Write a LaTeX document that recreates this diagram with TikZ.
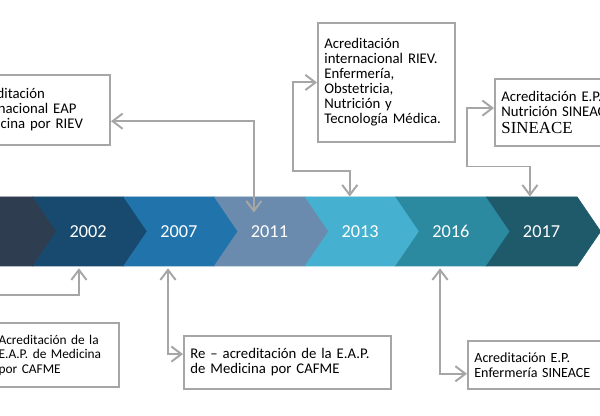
\documentclass[tikz,border=0pt]{standalone}
\usepackage{fontspec}
\setmainfont{Carlito}
\newfontfamily\sineacefont{Liberation Serif}
\usepackage{tikz}
\usetikzlibrary{calc,arrows.meta}
\definecolor{chev0}{HTML}{2E3E50}
\definecolor{chev1}{HTML}{174A6E}
\definecolor{chev2}{HTML}{2173AB}
\definecolor{chev3}{HTML}{6A8BAE}
\definecolor{chev4}{HTML}{45B0CF}
\definecolor{chev5}{HTML}{2C8AA0}
\definecolor{chev6}{HTML}{1E5A6A}
\definecolor{linegray}{HTML}{A6A6A6}
\tikzset{
	box/.style={draw=linegray,line width=1.4pt,fill=white,align=left,inner xsep=0.16cm,inner ysep=0pt,font=\fontsize{10.5}{10.7}\selectfont},
	year/.style={text=white,inner sep=0pt,minimum height=1.73cm,font=\fontsize{13}{13}\selectfont},
	link/.style={draw=linegray,line width=1.4pt,{Straight Barb[length=2.5mm,width=3.8mm]}-{Straight Barb[length=2.5mm,width=3.8mm]}}
}

\begin{document}
\begin{tikzpicture}
		\useasboundingbox (0,0) rectangle (15,-10.4);
		\clip (0,0) rectangle (15,-10.4);
		\foreach \col [count=\k from 0] in {chev0,chev1,chev2,chev3,chev4,chev5,chev6}
			\filldraw[\col,line width=0.4pt] ({0.825+2.267*(\k-1)},-4.92) -- ++(2.267,0) -- ++(0.59,-0.865) -- ++(-0.59,-0.865) -- ++(-2.267,0) -- ++(0.59,0.865) -- cycle;
		\foreach \yr [count=\k] in {2002,2007,2011,2013,2016,2017}
			\node(\yr) [year] at ({0.825+2.267*(\k-1)+1.378},-5.785) {\yr};
		\node(riev1) [box,anchor=east,text width=3.35cm,minimum height=1.75cm] at (2.775,-2.75) {Acreditación\\internacional EAP\\Medicina por RIEV};
		\node(riev2) [box,anchor=north west,text width=3.1cm,minimum height=2.975cm] at (7.925,-0.55) {Acreditación\\internacional RIEV.\\Enfermería,\\Obstetricia,\\Nutrición y\\Tecnología Médica.};
		\node(sineace1) [box,anchor=north west,text width=3.1cm,minimum height=1.675cm] at (12.35,-1.95) {Acreditación E.P.\\Nutrición SINEACE\\[2pt]{\sineacefont\fontsize{12}{12}\selectfont SINEACE}};
		\node(cafme1) [box,anchor=east,text width=2.85cm,minimum height=1.6cm,font=\fontsize{9.5}{10.3}\selectfont] at (3.0,-8.875) {Acreditación de la\\E.A.P. de Medicina\\por CAFME};
		\node(cafme2) [box,anchor=north west,text width=4.85cm,minimum height=1.325cm] at (4.575,-8.375) {Re – acreditación de la E.A.P.\\de Medicina por CAFME};
		\node(sineace2) [box,anchor=north west,text width=3.0cm,minimum height=1.2cm,font=\fontsize{10}{10.7}\selectfont] at (11.675,-8.5) {Acreditación E.P.\\Enfermería SINEACE};
		\path[link] ([xshift=-0.39cm,yshift=-0.4cm]2011.north) |- ([yshift=-0.28cm]riev1.east);
		\path[link] ([xshift=-0.26cm]2013.north) -- ++(0,0.63) -| ([xshift=-0.6cm]riev2.west) -- (riev2.west);
		\path[link] ([xshift=-0.29cm]2017.north) -- ++(0,0.75) -| ([xshift=-0.68cm,yshift=0.11cm]sineace1.west) -- ([yshift=0.11cm]sineace1.west);
		\path[link] ([xshift=-0.23cm,yshift=-0.05cm]2002.south) -- ++(0,-0.675) -| ([xshift=-0.4cm]cafme1.west) -- (cafme1.west);
		\path[link] ([xshift=-0.27cm,yshift=-0.05cm]2007.south) |- ([yshift=0.21cm]cafme2.west);
		\path[link] ([xshift=-0.27cm,yshift=-0.05cm]2016.south) |- ([yshift=-0.22cm]sineace2.west);
	\end{tikzpicture}
\end{document}
